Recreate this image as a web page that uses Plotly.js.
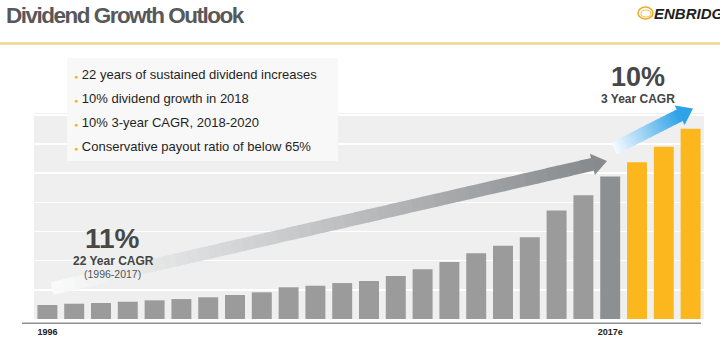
<!DOCTYPE html>
<html>
<head>
<meta charset="utf-8">
<script src="https://cdn.plot.ly/plotly-3.0.1.min.js"></script>
<style>html,body{margin:0;padding:0;background:#fff;}#chart{width:720px;height:339px;}</style>
</head>
<body>
<div id="chart"></div>
<script>
// ---- data ----
const years = ['1996','1997','1998','1999','2000','2001','2002','2003','2004','2005','2006',
               '2007','2008','2009','2010','2011','2012','2013','2014','2015','2016','2017',
               '2018','2019','2020'];
const dividends = [0.240,0.262,0.274,0.296,0.320,0.342,0.372,0.411,0.457,0.543,0.570,
                   0.616,0.651,0.736,0.851,0.976,1.125,1.255,1.400,1.860,2.120,2.440,
                   2.684,2.952,3.260];
const tickYears = ['1996','2017'];
const tickLabels = ['1996','2017e'];
const titleText = 'Dividend Growth Outlook';
const bullets = ['22 years of sustained dividend increases',
                 '10% dividend growth in 2018',
                 '10% 3-year CAGR, 2018-2020',
                 'Conservative payout ratio of below 65%'];
const histCagr = '11%', histLabel = '22 Year CAGR', histRange = '(1996-2017)';
const fwdCagr = '10%', fwdLabel = '3 Year CAGR';

// ---- layout helpers (pixel -> paper) ----
const W = 720, H = 339, M = {l:34, r:16, t:113, b:20};
const PW = W - M.l - M.r, PH = H - M.t - M.b;
const px = x => (x - M.l) / PW;
const py = y => (H - M.b - y) / PH;

const GRAY = '#9b9b9b', DARK = '#8d9093', ORANGE = '#fdb71e';
const colors = years.map(y => (+y >= 2018 ? ORANGE : (+y === 2017 ? DARK : GRAY)));

function hex2rgb(h){return [1,3,5].map(i=>parseInt(h.substr(i,2),16));}
function lerp(c0,c1,t){const a=hex2rgb(c0),b=hex2rgb(c1);
  return 'rgb('+a.map((v,i)=>Math.round(v+(b[i]-v)*t)).join(',')+')';}

function arrow(tail, tip, hw, headLen, headHW, c0, c1, n){
  const dx=tip[0]-tail[0], dy=tip[1]-tail[1], L=Math.hypot(dx,dy);
  const ux=dx/L, uy=dy/L, nx=-uy, ny=ux;
  const sl=L-headLen, out=[];
  const P=(s,o)=>[tail[0]+ux*s+nx*o, tail[1]+uy*s+ny*o];
  const path=pts=>'M'+pts.map(p=>px(p[0]).toFixed(5)+','+py(p[1]).toFixed(5)).join(' L')+' Z';
  for(let i=0;i<n;i++){
    const s0=sl*i/n, s1=Math.min(sl*(i+1)/n+0.9, sl+0.5);
    out.push({type:'path',xref:'paper',yref:'paper',layer:'above',
      path:path([P(s0,-hw),P(s1,-hw),P(s1,hw),P(s0,hw)]),
      fillcolor:lerp(c0,c1,(i+0.5)/n), line:{width:0,color:'rgba(0,0,0,0)'}});
  }
  out.push({type:'path',xref:'paper',yref:'paper',layer:'above',
    path:path([P(sl,-headHW),tip,P(sl,headHW)]),
    fillcolor:c1, line:{width:0,color:'rgba(0,0,0,0)'}});
  return out;
}

const FONT = 'Liberation Sans, Arial, Helvetica, sans-serif';

const shapes = [
  // header rule
  {type:'line',xref:'paper',yref:'paper',x0:px(0),x1:px(720),y0:py(43.5),y1:py(43.5),
   line:{color:'#f1d68e',width:2.5}},
  // baseline
  {type:'line',xref:'paper',yref:'paper',x0:px(22),x1:px(701),y0:py(323.3),y1:py(323.3),
   line:{color:'#8f8f8f',width:1.5}},
  // bullet box
  {type:'rect',xref:'paper',yref:'paper',layer:'above',x0:px(67),x1:px(338),y0:py(161),y1:py(58),
   fillcolor:'#f8f8f8',line:{width:0,color:'rgba(0,0,0,0)'}},
  // logo swirl
  {type:'circle',xref:'paper',yref:'paper',x0:px(638),x1:px(653),y0:py(19),y1:py(7),
   line:{color:'#e6b12f',width:1.6}},
  {type:'circle',xref:'paper',yref:'paper',x0:px(641),x1:px(651),y0:py(17),y1:py(10),
   line:{color:'#efc55a',width:1.2}},
  ...arrow([52,288.5],[607,161],6.5,15,11,'#fbfbfb','#888b8e',48),
  ...arrow([614,148.5],[693,108.5],6.5,15,11,'#f7fbfe','#2da2e6',24)
];

const annotations = [
  {text:'<span style="letter-spacing:-1.5px">'+titleText+'</span>',xref:'paper',yref:'paper',
   x:px(4),y:py(15),xanchor:'left',yanchor:'middle',
   showarrow:false,font:{family:FONT,size:22.5,weight:'bold',color:'#58585a'}},
  {text:'ENBRIDGE',xref:'paper',yref:'paper',x:px(652),y:py(13.5),xanchor:'left',yanchor:'middle',
   showarrow:false,font:{family:FONT,size:15,weight:'bold',style:'italic',color:'#231f20'}},
  {text:histCagr,xref:'paper',yref:'paper',x:px(112),y:py(238),xanchor:'center',yanchor:'middle',
   showarrow:false,font:{family:FONT,size:28,weight:'bold',color:'#474747'}},
  {text:histLabel,xref:'paper',yref:'paper',x:px(113),y:py(260.5),xanchor:'center',yanchor:'middle',
   showarrow:false,font:{family:FONT,size:12,weight:'bold',color:'#444'}},
  {text:histRange,xref:'paper',yref:'paper',x:px(112),y:py(273.5),xanchor:'center',yanchor:'middle',
   showarrow:false,font:{family:FONT,size:10.5,color:'#555'}},
  {text:fwdCagr,xref:'paper',yref:'paper',x:px(638),y:py(77),xanchor:'center',yanchor:'middle',
   showarrow:false,font:{family:FONT,size:27,weight:'bold',color:'#474747'}},
  {text:fwdLabel,xref:'paper',yref:'paper',x:px(638),y:py(99),xanchor:'center',yanchor:'middle',
   showarrow:false,font:{family:FONT,size:12,weight:'bold',color:'#444'}}
];
bullets.forEach((b,i)=>annotations.push({
  text:'<span style="color:#f2b53c;font-size:7px">●</span> '+b,
  xref:'paper',yref:'paper',x:px(72),y:py(74+24*i),xanchor:'left',yanchor:'middle',
  showarrow:false,font:{family:FONT,size:13,color:'#1f1f1f'}}));

const trace = {type:'bar',x:years,y:dividends,marker:{color:colors,line:{width:0}},
  hoverinfo:'x+y',showlegend:false};

const layout = {
  width:W,height:H,margin:M,paper_bgcolor:'#ffffff',plot_bgcolor:'#efefef',
  bargap:0.255,showlegend:false,
  xaxis:{type:'category',categoryorder:'array',categoryarray:years,tickmode:'array',
    tickvals:tickYears,ticktext:tickLabels,showgrid:false,zeroline:false,showline:false,
    ticks:'',ticklen:0,ticklabelstandoff:6,
    tickfont:{family:FONT,size:9,weight:'bold',color:'#222'},fixedrange:true},
  yaxis:{range:[0,3.53],dtick:0.5,tick0:0,showgrid:true,gridcolor:'#ffffff',gridwidth:1.5,
    zeroline:false,showticklabels:false,ticks:'',showline:false,fixedrange:true},
  shapes:shapes,annotations:annotations
};
Plotly.newPlot('chart',[trace],layout,{displayModeBar:false,staticPlot:true});
</script>
</body>
</html>
